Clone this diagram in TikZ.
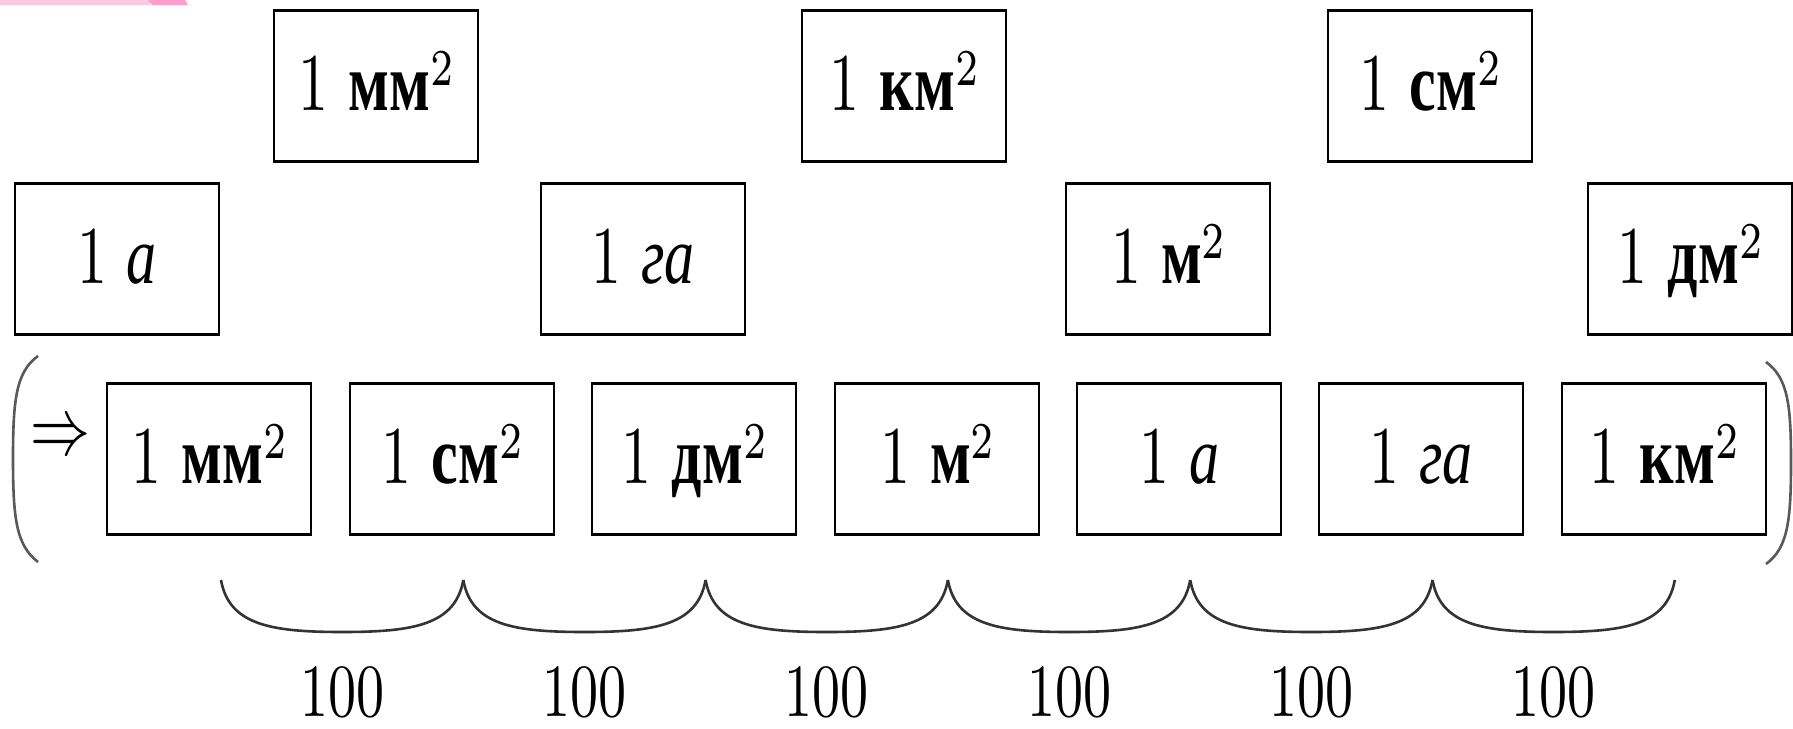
\documentclass[tikz,border=0pt]{standalone}
\usepackage{fontspec}
\usepackage{graphicx}
\newfontfamily\cyrfont{Liberation Serif}
\definecolor{pinkA}{HTML}{FFC8E2}
\definecolor{pinkB}{HTML}{FF9ECC}
\newcommand\mysq{\raisebox{3.05pt}{\fontsize{6.3}{7}\selectfont 2}}
\newcommand\boxtext[1]{\scalebox{3.0}[4.1]{\fontsize{10}{12}\selectfont #1}}
\newcommand\unitup[1]{{\cyrfont\bfseries #1}}
\newcommand\unitit[1]{{\cyrfont\itshape #1}}
\tikzset{
  unitbox/.style={draw=black, line width=1.4pt, minimum width=102pt, minimum height=75.5pt,
    inner sep=0pt, text height=30pt, text depth=5.5pt},
  bracearc/.style={draw=black!80, line width=1.3pt},
  parenline/.style={draw=black!65, line width=1.3pt},
  numlab/.style={anchor=base, inner sep=0pt},
}
\newcommand\hundred{\scalebox{2.8}[3.75]{\fontsize{10}{12}\selectfont 100}}
\begin{document}
\begin{tikzpicture}[x=0.5pt,y=-0.5pt]
\useasboundingbox (0,0) rectangle (1793,728);
\fill[white] (0,0) rectangle (1793,728);
% pink strip
\fill[pinkA] (0,0) rectangle (150,5);
\fill[pinkB] (148,0) -- (185,0) -- (188,5) -- (152,5) -- cycle;
% top row
\node[unitbox] (t1) at (376,86)  {\boxtext{1 \unitup{мм}\mysq}};
\node[unitbox] (t2) at (904,86)  {\boxtext{1 \unitup{км}\mysq}};
\node[unitbox] (t3) at (1430,86) {\boxtext{1 \unitup{см}\mysq}};
% middle row
\node[unitbox] (m1) at (117,259)  {\boxtext{1 \unitit{а}}};
\node[unitbox] (m2) at (643,259)  {\boxtext{1 \unitit{га}}};
\node[unitbox] (m3) at (1168,259) {\boxtext{1 \unitup{м}\mysq}};
\node[unitbox] (m4) at (1690,259) {\boxtext{1 \unitup{дм}\mysq}};
% bottom row
\node[unitbox] (b1) at (209,459)  {\boxtext{1 \unitup{мм}\mysq}};
\node[unitbox] (b2) at (452,459)  {\boxtext{1 \unitup{см}\mysq}};
\node[unitbox] (b3) at (694,459)  {\boxtext{1 \unitup{дм}\mysq}};
\node[unitbox] (b4) at (937,459)  {\boxtext{1 \unitup{м}\mysq}};
\node[unitbox] (b5) at (1179,459) {\boxtext{1 \unitit{а}}};
\node[unitbox] (b6) at (1421,459) {\boxtext{1 \unitit{га}}};
\node[unitbox] (b7) at (1664,459) {\boxtext{1 \unitup{км}\mysq}};
% arrow
\node[anchor=base, inner sep=0pt] (arr) at (60,454) {\boxtext{$\Rightarrow$}};
% parentheses
\draw[parenline] (38,356) .. controls (16,372) and (13,400) .. (13,458)
                 .. controls (13,518) and (16,545) .. (38,562);
\draw[parenline] (1766,362) .. controls (1788,378) and (1791,405) .. (1791,462)
                 .. controls (1791,520) and (1788,548) .. (1766,564);
% braces
\foreach \k in {0,...,6} {
  \coordinate (c\k) at ({221+242.3*\k},580);
}
\foreach \k in {1,...,6} {
  \coordinate (d\k) at ({221+242.3*\k-121.15},632);
}
\foreach \a/\m/\b in {c0/d1/c1, c1/d2/c2, c2/d3/c3, c3/d4/c4, c4/d5/c5, c5/d6/c6} {
  \draw[bracearc] (\a) .. controls +(8,45) and +(-71,0) .. (\m)
                       .. controls +(71,0) and +(-8,45) .. (\b);
}
% labels
\node[numlab] (n1) at (342,716)  {\hundred};
\node[numlab] (n2) at (584,716)  {\hundred};
\node[numlab] (n3) at (826,716)  {\hundred};
\node[numlab] (n4) at (1069,716) {\hundred};
\node[numlab] (n5) at (1311,716) {\hundred};
\node[numlab] (n6) at (1553,716) {\hundred};
\end{tikzpicture}
\end{document}
